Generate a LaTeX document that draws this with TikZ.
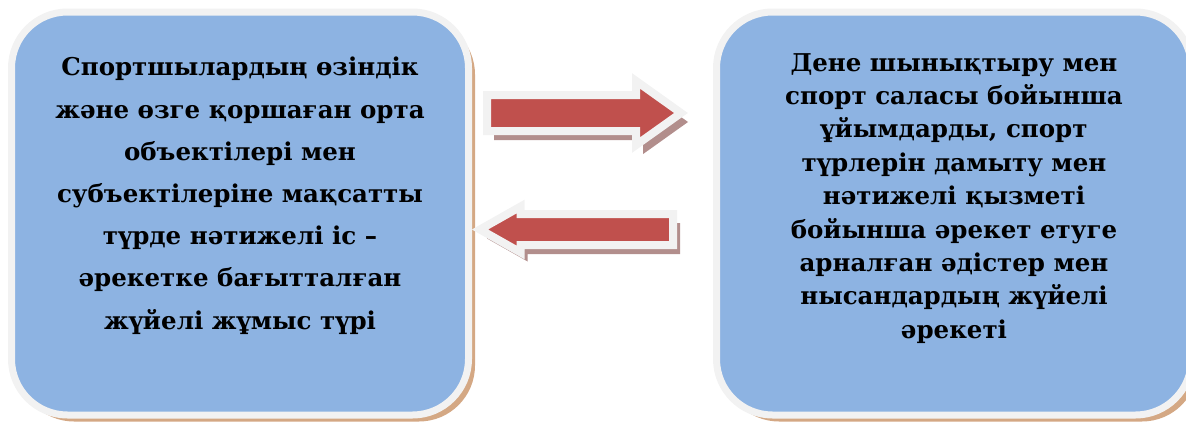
\documentclass[tikz,border=0pt]{standalone}
\usepackage{fontspec}
\setmainfont{DejaVu Serif}
\usetikzlibrary{shapes.arrows,shadows,positioning}
\definecolor{boxblue}{RGB}{141,179,226}
\definecolor{boxedge}{RGB}{242,242,242}
\definecolor{boxshade}{RGB}{212,168,132}
\definecolor{arrowred}{RGB}{192,80,77}
\definecolor{arrowshade}{RGB}{178,142,140}

\begin{document}
\begin{tikzpicture}[x=1pt,y=-1pt]
\useasboundingbox (0,0) rectangle (1186,423);
   \tikzset{BoxStyle/.style = {rectangle, rounded corners=56pt, fill=boxblue, draw=boxedge, line width=7pt, inner sep=0pt, outer sep=0pt,
      drop shadow={shadow xshift=6.5pt, shadow yshift=-6.5pt, fill=boxshade, opacity=1}}}
   \tikzset{TextStyle/.style = {inner sep=0pt, align=center, font=\bfseries\fontsize{24.5}{42.2}\selectfont}}
   \tikzset{ArrowStyle/.style = {single arrow, fill=arrowred, draw=boxedge, line width=8pt, outer sep=0pt,
      drop shadow={shadow xshift=7pt, shadow yshift=-9pt, fill=arrowshade, opacity=1}}}

   \node[BoxStyle, minimum width=457pt, minimum height=403pt] (B0) at (240,213.5) {};
   \node[BoxStyle, minimum width=475pt, minimum height=403pt] (B1) at (954,213.5) {};

   \node[ArrowStyle, anchor=tip, minimum height=194pt, inner sep=14pt,
      single arrow head extend=14pt, single arrow tip angle=71] (A0) at (681,113) {};
   \node[ArrowStyle, anchor=tip, shape border rotate=180, minimum height=193pt, inner sep=11.5pt,
      single arrow head extend=7.5pt, single arrow tip angle=59] (A1) at (480,229.5) {};

   \node[TextStyle, anchor=north] (T0) at (240,57) {Спортшылардың өзіндік\\ және өзге қоршаған орта\\ объектілері мен\\ субъектілеріне мақсатты\\ түрде нәтижелі іс –\\ әрекетке бағытталған\\ жүйелі жұмыс түрі};
%   right box has tighter lines
   \node[TextStyle, anchor=north, font=\bfseries\fontsize{24.5}{33.4}\selectfont] (T1) at (954,53) {Дене шынықтыру мен\\ спорт саласы бойынша\\ ұйымдарды, спорт\\ түрлерін дамыту мен\\ нәтижелі қызметі\\ бойынша әрекет етуге\\ арналған әдістер мен\\ нысандардың жүйелі\\ әрекеті};

\end{tikzpicture}
\end{document}
